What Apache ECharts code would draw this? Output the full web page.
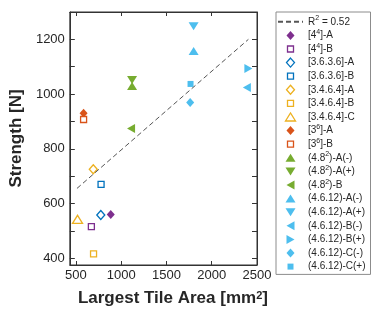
<!DOCTYPE html>
<html>
<head>
<meta charset="utf-8">
<script src="https://cdn.jsdelivr.net/npm/echarts@6/dist/echarts.min.js"></script>
<style>html,body{margin:0;padding:0;background:#fff}#c{width:374px;height:312px}</style>
</head>
<body>
<div id="c"></div>
<script>
// ---- data ----
const seriesNames = ['[4^4]-A','[4^4]-B','[3.6.3.6]-A','[3.6.3.6]-B','[3.4.6.4]-A','[3.4.6.4]-B','[3.4.6.4]-C','[3^6]-A','[3^6]-B','(4.8^2)-A(-)','(4.8^2)-A(+)','(4.8^2)-B','(4.6.12)-A(-)','(4.6.12)-A(+)','(4.6.12)-B(-)','(4.6.12)-B(+)','(4.6.12)-C(-)','(4.6.12)-C(+)'];
const areaValues = [885, 671, 775, 778, 692, 695, 518, 585, 585, 1120, 1120, 1109, 1800, 1800, 2388, 2405, 1762, 1766];
const strengthValues = [560, 515, 558, 670, 725, 416, 542, 930, 907, 1029, 1051, 874, 1157, 1248, 1024, 1093, 969, 1037];
const fitName = 'R^2 = 0.52';
const fitX = [512, 2405];
const fitY = [655, 1200];
const xTicks = [500, 1000, 1500, 2000, 2500];
const yTicks = [400, 500, 600, 700, 800, 900, 1000, 1100, 1200];
const yLabels = [400, 600, 800, 1000, 1200];

// ---- styles ----
const C = {pu:'#7E2F8E', bl:'#0072BD', ye:'#EDB120', or:'#D95319', gr:'#77AC30', lb:'#4DBEEE'};
const FR = 'path://M0,0M10,10';
const SYM = {
  dia: FR + 'M5,0.5L9,5L5,9.5L1,5Z',
  sq: FR + 'M2,2L8,2L8,8L2,8Z',
  up: FR + 'M0,9L5,1L10,9Z',
  down: FR + 'M0,1L10,1L5,9Z',
  left: FR + 'M1,5L9,0.5L9,9.5Z',
  right: FR + 'M9,5L1,0.5L1,9.5Z'
};
const markerColor = [C.pu,C.pu,C.bl,C.bl,C.ye,C.ye,C.ye,C.or,C.or,C.gr,C.gr,C.gr,C.lb,C.lb,C.lb,C.lb,C.lb,C.lb];
const markerShape = ['dia','sq','dia','sq','dia','sq','up','dia','sq','up','down','left','up','down','left','right','dia','sq'];
const markerOpen = [0,1,1,1,1,1,1,0,1,0,0,0,0,0,0,0,0,0];

const FONT = 'Liberation Sans, Arial, sans-serif';
const AX = '#333333';
const TXT = '#262626';

const series = [{
  name: fitName, type: 'line', symbol: 'circle', showSymbol: false, silent: true,
  data: fitX.map((x, i) => [x, fitY[i]]),
  lineStyle: {color: '#555', width: 1, type: [5, 3]}
}, {
  name: '_frame', type: 'scatter', xAxisIndex: 1, yAxisIndex: 1, data: [], silent: true
}];
const legendData = [{name: fitName, itemStyle: {color: 'rgba(0,0,0,0)', borderWidth: 0, opacity: 0}}];
seriesNames.forEach((n, i) => {
  const open = markerOpen[i];
  series.push({
    name: n, type: 'scatter', symbol: SYM[markerShape[i]], symbolSize: 10,
    data: [[areaValues[i], strengthValues[i]]],
    itemStyle: open ? {color: '#fff', borderColor: markerColor[i], borderWidth: 1.3, opacity: 1}
                    : {color: markerColor[i], opacity: 1}
  });
  legendData.push(open ? {name: n, itemStyle: {borderWidth: 1.3}} : {name: n});
});

const plain = v => String(v);

const chart = echarts.init(document.getElementById('c'), null, {renderer: 'canvas'});
chart.setOption({
  animation: false,
  backgroundColor: '#fff',
  textStyle: {fontFamily: FONT},
  grid: {left: 58, top: 12, width: 199, height: 253, show: true, borderColor: AX, borderWidth: 1, backgroundColor: 'transparent'},
  xAxis: [{
    type: 'value', min: 433, max: 2500, position: 'bottom',
    name: 'Largest Tile Area [mm{sup|2}]', nameLocation: 'middle', nameGap: 25,
    nameTextStyle: {fontSize: 17, fontWeight: 'bold', color: TXT, fontFamily: FONT, padding: [0, 0, 0, 19],
      rich: {sup: {fontSize: 11, fontWeight: 'bold', color: TXT, verticalAlign: 'top', lineHeight: 5, fontFamily: FONT}}},
    axisLine: {show: true, onZero: false, lineStyle: {color: AX, width: 1}},
    axisTick: {show: true, inside: true, length: 4, customValues: xTicks, lineStyle: {color: AX}},
    axisLabel: {customValues: xTicks, formatter: plain, fontSize: 13, color: TXT, margin: 4, fontFamily: FONT},
    splitLine: {show: false}
  }, {
    type: 'value', min: 433, max: 2500, position: 'top',
    axisLine: {show: true, onZero: false, lineStyle: {color: AX, width: 1}},
    axisTick: {show: true, inside: true, length: 4, customValues: xTicks, lineStyle: {color: AX}},
    axisLabel: {show: false}, splitLine: {show: false}
  }],
  yAxis: [{
    type: 'value', min: 375, max: 1300, position: 'left',
    name: 'Strength [N]', nameLocation: 'middle', nameGap: 40,
    nameTextStyle: {fontSize: 17, fontWeight: 'bold', color: TXT, fontFamily: FONT},
    axisLine: {show: true, onZero: false, lineStyle: {color: AX, width: 1}},
    axisTick: {show: true, inside: true, length: 5, customValues: yTicks, lineStyle: {color: AX}},
    axisLabel: {customValues: yLabels, formatter: plain, fontSize: 13, color: TXT, margin: 5, fontFamily: FONT},
    splitLine: {show: false}
  }, {
    type: 'value', min: 375, max: 1300, position: 'right',
    axisLine: {show: true, onZero: false, lineStyle: {color: AX, width: 1}},
    axisTick: {show: true, inside: true, length: 5, customValues: yTicks, lineStyle: {color: AX}},
    axisLabel: {show: false}, splitLine: {show: false}
  }],
  legend: {
    orient: 'vertical', left: 276, top: 12, padding: [3, 5, 1, 1],
    itemWidth: 25, itemHeight: 10, itemGap: 0,
    backgroundColor: '#fff', borderColor: '#8c8c8c', borderWidth: 1,
    selectedMode: false, data: legendData,
    formatter: name => name.replace(/\^(\d)/, '{sup|$1}'),
    textStyle: {fontSize: 10, color: TXT, lineHeight: 13.6, fontFamily: FONT,
      rich: {sup: {fontSize: 7, color: TXT, verticalAlign: 'top', lineHeight: 6, fontFamily: FONT}}}
  },
  series: series
});
</script>
</body>
</html>
